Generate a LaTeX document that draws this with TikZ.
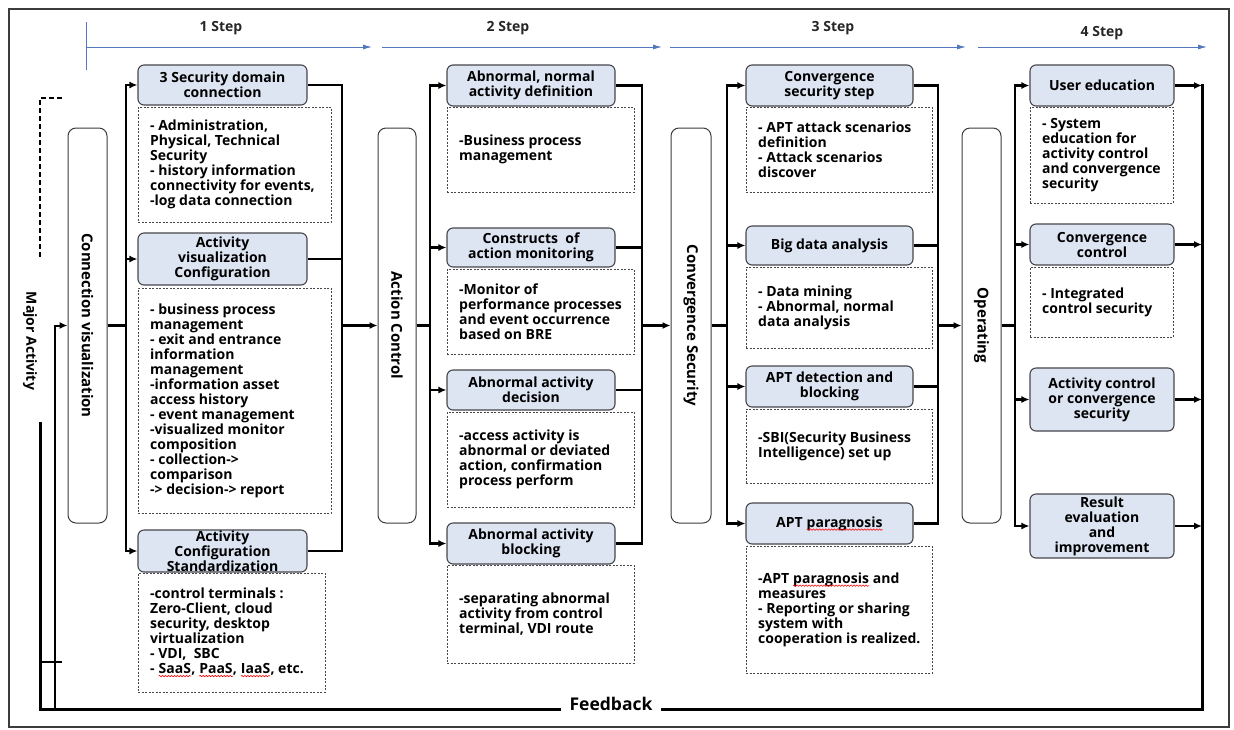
\documentclass[tikz,border=0pt]{standalone}
\usepackage{fontspec}
\setmainfont{Open Sans}
\usetikzlibrary{arrows.meta,decorations.pathmorphing}
\definecolor{stepblue}{RGB}{84,120,190}
\definecolor{boxfill}{RGB}{221,228,242}
\definecolor{boxline}{RGB}{70,70,75}
\definecolor{frameline}{RGB}{60,60,60}
\newcommand\redwave[1]{\tikz[baseline=(w.base)]{\node[inner sep=0pt, outer sep=0pt, draw=none, fill=none, minimum width=0pt, minimum height=0pt] (w) {#1}; \draw[red, line width=0.6pt, rounded corners=0pt, decorate, decoration={snake, amplitude=0.7pt, segment length=3pt}] ([yshift=-2.5pt]w.base west) -- ([yshift=-2.5pt]w.base east);}}
\newcommand\dbox[6]{%
  \node[dbx, minimum width={#4-#2}, minimum height={#5-#3}] (#1) at ({(#2+#4)/2},{(#3+#5)/2}) {};
  \node[dtxt, anchor=west] (#1t) at ({#2+12},{(#3+#5)/2}) {#6};
}
\tikzset{
 bbox/.style={draw=boxline, line width=1.1pt, fill=boxfill, rounded corners=6pt, align=center, font=\fontsize{14}{15}\selectfont\bfseries, inner sep=0pt},
 dbx/.style={draw=boxline, line width=0.8pt, dash pattern=on 2pt off 1.5pt, inner sep=0pt},
 dtxt/.style={align=left, font=\fontsize{14}{15}\selectfont\bfseries, inner sep=0pt},
 vbox/.style={draw=frameline, line width=1pt, rounded corners=8pt, inner sep=0pt},
 vlabel/.style={rotate=-90, font=\fontsize{15}{18}\selectfont\bfseries, inner sep=0pt},
 bus/.style={line width=2.6pt, line cap=rect},
 conn/.style={line width=2.4pt},
 arr/.style={line width=2.4pt, -{Latex[length=8pt,width=7pt]}},
 steparr/.style={stepblue, line width=1pt, -{Latex[length=9pt,width=5pt]}},
 steplab/.style={font=\fontsize{14}{16}\selectfont\bfseries, text=black!85},
}
\begin{document}
\begin{tikzpicture}[x=1pt,y=-1pt]
\useasboundingbox (0,0) rectangle (1234,729);
\draw[frameline, line width=1.4pt] (9,9) rectangle (1229,727);

% step arrows
\node[steplab] (s1) at (221,28) {1 Step};
\node[steplab] (s2) at (508,28) {2 Step};
\node[steplab] (s3) at (833,28) {3 Step};
\node[steplab] (s4) at (1102,33) {4 Step};
\coordinate (s1a) at (86,47); \coordinate (s1b) at (372,47);
\coordinate (s2a) at (382,47); \coordinate (s2b) at (662,47);
\coordinate (s3a) at (670,47); \coordinate (s3b) at (966,47);
\coordinate (s4a) at (978,47); \coordinate (s4b) at (1207,47);
\coordinate (t1) at (86,22); \coordinate (t2) at (86,70);
\draw[stepblue, line width=1pt] (t1) -- (t2);
\draw[steparr] (s1a) -- (s1b);
\draw[steparr] (s2a) -- (s2b);
\draw[steparr] (s3a) -- (s3b);
\draw[steparr] (s4a) -- (s4b);

% bus coordinates
\coordinate (L1) at (126,0); \coordinate (R1) at (342,0);
\coordinate (L2) at (430,0); \coordinate (R2) at (642,0);
\coordinate (L3) at (727,0); \coordinate (R3) at (938,0);
\coordinate (L4) at (1015,0); \coordinate (R4) at (1202,0);

% vertical boxes
\node[vbox, minimum width=39, minimum height=395] (cv) at (87.5,325.5) {};
\node[vlabel] (cvl) at (cv.center) {Connection visualization};
\node[vbox, minimum width=38, minimum height=395] (ac) at (397,325.5) {};
\node[vlabel] (acl) at (ac.center) {Action Control};
\node[vbox, minimum width=40, minimum height=395] (cs) at (691,325.5) {};
\node[vlabel] (csl) at (cs.center) {Convergence Security};
\node[vbox, minimum width=39, minimum height=395] (op) at (981.5,325.5) {};
\node[vlabel] (opl) at (op.center) {Operating};

% column 1
\node[bbox, minimum width=169, minimum height=40] (b1a) at (222.5,85) {3 Security domain\\connection};
\node[bbox, minimum width=169, minimum height=52] (b1b) at (222.5,259) {Activity\\visualization\\Configuration};
\node[bbox, minimum width=169, minimum height=42] (b1c) at (222.5,551) {Activity\\Configuration\\Standardization};
\dbox{d1a}{138}{107}{331}{222}{- Administration,\\Physical, Technical\\Security\\- history information\\connectivity for events,\\-log data connection}
\dbox{d1b}{138}{288}{331}{513}{- business process\\management\\- exit and entrance\\information\\management\\-information asset\\access history\\- event management\\-visualized monitor\\composition\\- collection->\\comparison\\-> decision-> report}
\dbox{d1c}{138}{573}{325}{692}{-control terminals :\\Zero-Client, cloud\\security, desktop\\virtualization\\- VDI,~~SBC\\- \redwave{SaaS}, \redwave{PaaS}, \redwave{IaaS}, etc.}

% column 2
\node[bbox, minimum width=168, minimum height=41] (b2a) at (531,85.5) {Abnormal, normal\\activity definition};
\node[bbox, minimum width=168, minimum height=39] (b2b) at (531,247.5) {Constructs~~of\\action monitoring};
\node[bbox, minimum width=168, minimum height=40] (b2c) at (531,390) {Abnormal activity\\decision};
\node[bbox, minimum width=168, minimum height=41] (b2d) at (531,543.5) {Abnormal activity\\blocking};
\dbox{d2a}{447}{107}{634}{192}{-Business process\\management}
\dbox{d2b}{447}{269}{634}{354}{-Monitor of\\performance processes\\and event occurrence\\based on BRE}
\dbox{d2c}{447}{412}{634}{507}{-access activity is\\abnormal or deviated\\action, confirmation\\process perform}
\dbox{d2d}{447}{565}{634}{663}{-separating abnormal\\activity from control\\terminal, VDI route}

% column 3
\node[bbox, minimum width=167, minimum height=41] (b3a) at (829.5,85.5) {Convergence\\security step};
\node[bbox, minimum width=167, minimum height=39] (b3b) at (829.5,245.5) {Big data analysis};
\node[bbox, minimum width=167, minimum height=41] (b3c) at (829.5,386.5) {APT detection and\\blocking};
\node[bbox, minimum width=167, minimum height=41] (b3d) at (829.5,523.5) {APT \redwave{paragnosis}};
\dbox{d3a}{746}{107}{932}{192}{- APT attack scenarios\\definition\\- Attack scenarios\\discover}
\dbox{d3b}{746}{267}{932}{348}{- Data mining\\- Abnormal, normal\\data analysis}
\dbox{d3c}{746}{409}{932}{483}{-SBI(Security Business\\Intelligence) set up}
\dbox{d3d}{746}{546}{932}{673}{-APT \redwave{paragnosis} and\\measures\\- Reporting or sharing\\system with\\cooperation is realized.}

% column 4
\node[bbox, minimum width=144, minimum height=41] (b4a) at (1102,85.5) {User education};
\node[bbox, minimum width=144, minimum height=41] (b4b) at (1102,244.5) {Convergence\\control};
\node[bbox, minimum width=144, minimum height=63] (b4c) at (1102,399.5) {Activity control\\or convergence\\security};
\node[bbox, minimum width=144, minimum height=64] (b4d) at (1102,526) {Result\\evaluation\\and\\improvement};
\dbox{d4a}{1030}{107}{1173}{203}{- System\\education for\\activity control\\and convergence\\security}
\dbox{d4b}{1030}{267}{1173}{337}{- Integrated\\control security}

% connections column 1
\draw[conn] (cv.east) -- (cv.east -| L1);
\draw[bus] (L1 |- b1a.west) -- (L1 |- b1c.west);
\foreach \n in {b1a,b1b,b1c} {\draw[arr] (L1 |- \n.west) -- (\n.west); \draw[conn] (\n.east) -- (\n.east -| R1);}
\draw[bus] (R1 |- b1a.east) -- (R1 |- b1c.east);
\draw[arr] (R1 |- ac.west) -- (ac.west);

% column 2
\draw[conn] (ac.east) -- (ac.east -| L2);
\draw[bus] (L2 |- b2a.west) -- (L2 |- b2d.west);
\foreach \n in {b2a,b2b,b2c,b2d} {\draw[arr] (L2 |- \n.west) -- (\n.west); \draw[conn] (\n.east) -- (\n.east -| R2);}
\draw[bus] (R2 |- b2a.east) -- (R2 |- b2d.east);
\draw[arr] (R2 |- cs.west) -- (cs.west);

% column 3
\draw[conn] (cs.east) -- (cs.east -| L3);
\draw[bus] (L3 |- b3a.west) -- (L3 |- b3d.west);
\foreach \n in {b3a,b3b,b3c,b3d} {\draw[arr] (L3 |- \n.west) -- (\n.west); \draw[conn] (\n.east) -- (\n.east -| R3);}
\draw[bus] (R3 |- b3a.east) -- (R3 |- b3d.east);
\draw[arr] (R3 |- op.west) -- (op.west);

% column 4
\draw[conn] (op.east) -- (op.east -| L4);
\draw[bus] (L4 |- b4a.west) -- (L4 |- b4d.west);
\foreach \n in {b4a,b4b,b4c,b4d} {\draw[arr] (L4 |- \n.west) -- (\n.west); \draw[arr] (\n.east) -- (\n.east -| R4);}

% feedback loop
\coordinate (fbr) at (1202,709);
\coordinate (fbl) at (40,709);
\coordinate (fbt) at (40,423);
\coordinate (fbi) at (55,709);
\draw[line width=3pt, line cap=rect] (R4 |- b4a.east) -- (fbr) -- (fbl) -- (fbt);
\draw[arr, line width=2pt] (fbi) |- (cv.west);
\node[fill=white, font=\fontsize{17.5}{20}\selectfont\bfseries, inner xsep=9pt, inner ysep=3pt] (fb) at (611,704) {Feedback};

% major activity bracket
\node[vlabel, font=\fontsize{14}{16}\selectfont\bfseries] (ma) at (30,341) {Major Activity};
\coordinate (bk1) at (62,98); \coordinate (bk2) at (40,98); \coordinate (bk3) at (40,257);
\draw[line width=2.2pt, dash pattern=on 5pt off 3pt] (bk1) -- (bk2) -- (bk3);
\coordinate (bk4) at (40,662); \coordinate (bk5) at (62,662);
\draw[line width=1.5pt] (bk4) -- (bk5);
\end{tikzpicture}
\end{document}
